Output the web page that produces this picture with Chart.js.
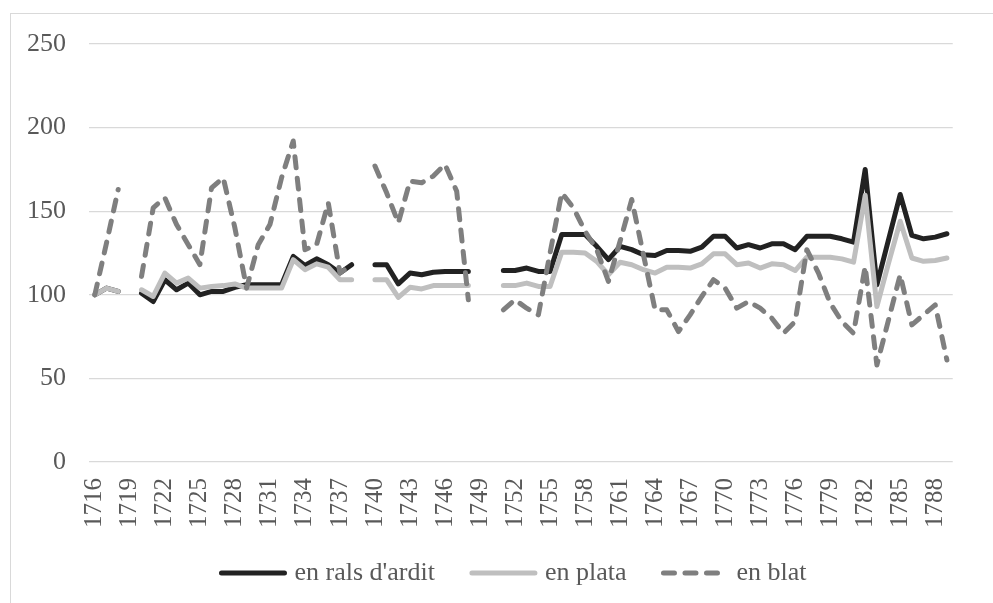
<!DOCTYPE html>
<html>
<head>
<meta charset="utf-8">
<script src="https://cdn.jsdelivr.net/npm/chart.js@4.4.1/dist/chart.umd.min.js"></script>
<style>
    html, body { margin: 0; padding: 0; background: #ffffff; }
    #frame {
        position: absolute; left: 10px; top: 13px; width: 1000px; height: 600px;
        border-left: 1px solid #d9d9d9; border-top: 1px solid #d9d9d9;
    }
    #wrap { position: absolute; left: 0; top: 0; width: 993px; height: 603px; }
</style>
</head>
<body>
<div id="frame"></div>
<div id="wrap"><canvas id="chart"></canvas></div>
<script>
// Categories: one per year
const years = [
    '1716','1717','1718','1719','1720','1721','1722','1723','1724','1725',
    '1726','1727','1728','1729','1730','1731','1732','1733','1734','1735',
    '1736','1737','1738','1739','1740','1741','1742','1743','1744','1745',
    '1746','1747','1748','1749','1750','1751','1752','1753','1754','1755',
    '1756','1757','1758','1759','1760','1761','1762','1763','1764','1765',
    '1766','1767','1768','1769','1770','1771','1772','1773','1774','1775',
    '1776','1777','1778','1779','1780','1781','1782','1783','1784','1785',
    '1786','1787','1788','1789'
];

// Labels shown on the x axis (every third year)
const tickYears = [
    '1716','1719','1722','1725','1728','1731','1734','1737','1740','1743',
    '1746','1749','1752','1755','1758','1761','1764','1767','1770','1773',
    '1776','1779','1782','1785','1788'
];

const yTicks = [0, 50, 100, 150, 200, 250];

// en rals d'ardit
const ralsArdit = [
    100, 104, 102, null, 101, 96, 109, 103, 107, 100,
    102, 102, 104.5, 106, 106, 106, 106, 123, 117.5, 121.5,
    118, 113, 118, null, 118, 118, 106.5, 113, 112, 113.5,
    114, 114, 114, null, null, 114.5, 114.5, 116, 114, 114,
    136, 136, 136, 129, 121, 129, 127, 124, 123.5, 126.5,
    126.5, 126, 128.5, 135, 135, 128, 130, 128, 130.5, 130.5,
    127, 135, 135, 135, 133.5, 131.5, 175, 106, 133, 160,
    135.5, 133.5, 134.5, 136.5
];

// en plata
const enPlata = [
    100, 104, 102, null, 103, 99, 113, 107, 110, 104,
    105, 105.5, 106.5, 104, 104, 104, 104, 121, 115, 118.5,
    116.5, 109, 109, null, 109, 109, 98.5, 104.5, 103.5, 105.5,
    105.5, 105.5, 105.5, null, null, 105.5, 105.5, 107, 105, 105,
    125.5, 125.5, 125, 120, 112, 119.5, 118, 115, 113, 116.5,
    116.5, 116, 118.5, 124.5, 124.5, 118, 119, 116, 118.5, 118,
    114.5, 122.5, 122.5, 122.5, 121.5, 119.5, 159.5, 93, 119, 144,
    122, 120, 120.5, 122
];

// en blat
const enBlat = [
    100, 131, 163, null, 111, 152, 158, 142, 130, 118,
    164, 170, 140, 104, 130, 142, 170, 192, 127, 130,
    155, 113, 118, null, 177, 161, 143, 168, 167, 171,
    178, 162, 97, null, null, 91, 97, 92, 88, 125,
    161, 152, 138, 127, 108, 132, 157, 124, 91, 91,
    78, 88, 99, 109, 104, 92, 96, 92, 86, 77,
    84, 127, 113, 95, 84, 77, 117, 58, 85, 112,
    82, 88, 94, 61
];

const serif = "'Liberation Serif', 'Times New Roman', serif";
const textColor = '#595959';

function lineSet(label, data, color, order, dash) {
    return {
        label: label,
        data: data,
        borderColor: color,
        backgroundColor: color,
        borderWidth: 5,
        borderDash: dash || [],
        borderCapStyle: 'round',
        borderJoinStyle: 'round',
        pointRadius: 0,
        pointHoverRadius: 0,
        tension: 0,
        spanGaps: false,
        order: order
    };
}

// Legend under the axis, drawn like the Excel one (line sample + text)
const bottomLegend = {
    id: 'bottomLegend',
    afterDraw(chart, args, opts) {
        const ctx = chart.ctx;
        const sets = chart.data.datasets;
        ctx.save();
        ctx.font = opts.fontSize + 'px ' + serif;
        const widths = sets.map(ds => ctx.measureText(ds.label).width);
        let total = opts.spacing * (sets.length - 1);
        widths.forEach(w => { total += opts.sample + opts.gap + w; });
        let x = opts.centerX - total / 2;
        sets.forEach((ds, i) => {
            ctx.strokeStyle = ds.borderColor;
            ctx.lineWidth = ds.borderWidth;
            ctx.lineCap = 'round';
            ctx.setLineDash(ds.borderDash || []);
            ctx.beginPath();
            ctx.moveTo(x, opts.y);
            ctx.lineTo(x + opts.sample, opts.y);
            ctx.stroke();
            ctx.setLineDash([]);
            ctx.fillStyle = opts.color;
            ctx.textAlign = 'left';
            ctx.textBaseline = 'middle';
            ctx.fillText(ds.label, x + opts.sample + opts.gap, opts.y);
            x += opts.sample + opts.gap + widths[i] + opts.spacing;
        });
        ctx.restore();
    }
};

new Chart(document.getElementById('chart'), {
    type: 'line',
    data: {
        labels: years,
        datasets: [
            lineSet("en rals d'ardit", ralsArdit, '#222222', 3),
            lineSet('en plata', enPlata, '#bfbfbf', 2),
            lineSet('en blat', enBlat, '#7f7f7f', 1, [11, 10.5])
        ]
    },
    plugins: [bottomLegend],
    options: {
        responsive: true,
        maintainAspectRatio: false,
        animation: false,
        layout: { padding: { top: 44, right: 15, bottom: 0, left: 0 } },
        plugins: {
            tooltip: { enabled: false },
            legend: { display: false },
            bottomLegend: {
                centerX: 514,
                y: 573,
                sample: 63,
                gap: 10,
                spacing: 37,
                fontSize: 26,
                color: textColor
            }
        },
        scales: {
            x: {
                offset: true,
                grid: { display: false, drawTicks: false },
                border: { display: false },
                ticks: {
                    autoSkip: false,
                    minRotation: 90,
                    maxRotation: 90,
                    padding: 16,
                    color: textColor,
                    font: { family: serif, size: 25 },
                    callback: function(value, index) {
                        const y = years[index];
                        return tickYears.includes(y) ? y : '';
                    }
                },
                afterFit: function(scale) { scale.height = 141; }
            },
            y: {
                min: yTicks[0],
                max: yTicks[yTicks.length - 1],
                grid: { color: '#d9d9d9', lineWidth: 1.3, drawTicks: false },
                border: { display: false },
                ticks: {
                    stepSize: yTicks[1] - yTicks[0],
                    padding: 23,
                    color: textColor,
                    font: { family: serif, size: 26 }
                },
                afterFit: function(scale) { scale.width = 89; }
            }
        }
    }
});
</script>
</body>
</html>
